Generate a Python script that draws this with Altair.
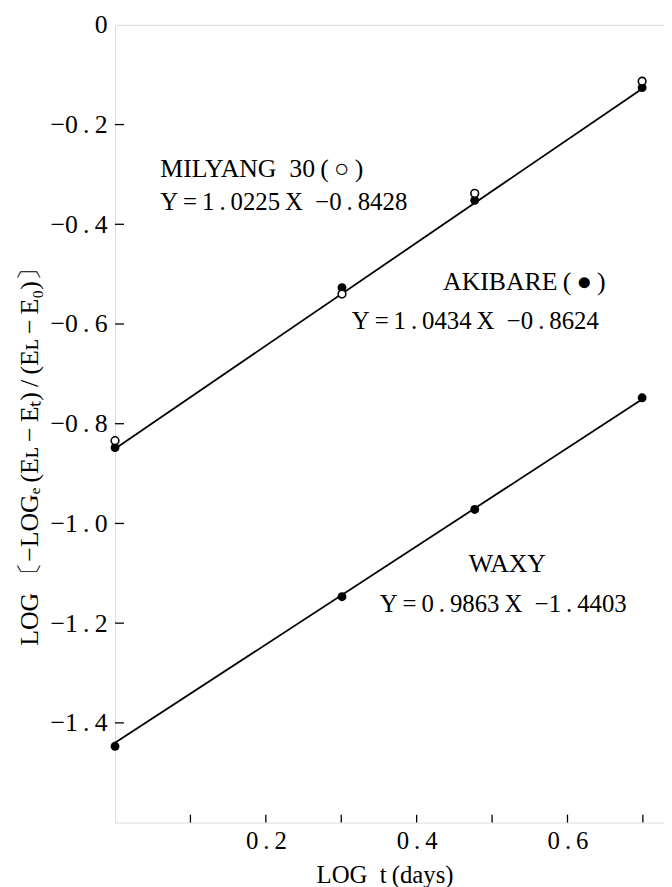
import altair as alt
import pandas as pd

FONT = "Liberation Serif"

# ---- data ----
log_t = [0.0, 0.301, 0.477, 0.699]
milyang = [-0.834, -0.540, -0.338, -0.113]   # open circles
akibare = [-0.848, -0.527, -0.352, -0.126]   # filled circles
waxy = [-1.447, -1.147, -0.972, -0.748]      # filled circles

line_x = [0.0, 0.699]
line_top_y = [-0.850, -0.128]
line_waxy_y = [-1.440, -0.751]

x_label_values = [0.2, 0.4, 0.6]
x_tick_values = [0.1, 0.2, 0.3, 0.4, 0.5, 0.6, 0.7]
y_tick_values = [0.0, -0.2, -0.4, -0.6, -0.8, -1.0, -1.2, -1.4]

T = "\u2009"
ann_text = [
    "MILYANG" + "\u2002" + "30" + T + "(" + T + "○" + T + ")",
    "Y" + T + "=" + T + "1" + T + "." + T + "0225" + T + "X" + "\u2002" + "−0" + T + "." + T + "8428",
    "AKIBARE" + T + "(" + T + "●" + T + ")",
    "Y" + T + "=" + T + "1" + T + "." + T + "0434" + T + "X" + "\u2002" + "−0" + T + "." + T + "8624",
    "WAXY",
    "Y" + T + "=" + T + "0" + T + "." + T + "9863" + T + "X" + "\u2002" + "−1" + T + "." + T + "4403",
]
ann_size = [26, 25, 26, 25, 26, 25]
ann_x = [0.060, 0.060, 0.435, 0.314, 0.469, 0.351]
ann_y = [-0.306, -0.372, -0.531, -0.611, -1.098, -1.178]

X_DOMAIN = [0, 0.728]
Y_DOMAIN = [-1.6, 0]
W, H = 554, 805

pts = pd.DataFrame({
    "x": log_t * 3,
    "y": milyang + akibare + waxy,
    "series": ["MILYANG 30"] * 4 + ["AKIBARE"] * 4 + ["WAXY"] * 4,
})
lines = pd.DataFrame({
    "x": line_x * 2,
    "y": line_top_y + line_waxy_y,
    "series": ["top", "top", "waxy", "waxy"],
})
ann = pd.DataFrame({"x": ann_x, "y": ann_y, "text": ann_text, "size": ann_size})
xt = pd.DataFrame({"x": x_tick_values})
yt = pd.DataFrame({"y": y_tick_values[1:]})

ylabel_expr = (
    "datum.value == 0 ? '0' : '−' + replace(format(abs(datum.value), '.1f'), '.', '\u2009.\u2009')"
)
xlabel_expr = "replace(format(datum.value, '.1f'), '.', '\u2009.\u2009')"

xscale = alt.Scale(domain=X_DOMAIN, nice=False, zero=False)
yscale = alt.Scale(domain=Y_DOMAIN, nice=False, zero=False)

xaxis = alt.Axis(
    values=x_label_values, ticks=False, domain=False, grid=False,
    labelExpr=xlabel_expr, labelFont=FONT, labelFontSize=25, labelColor="black",
    labelPadding=6, title="LOG\u2002t\u2009(days)", titleFont=FONT, titleFontSize=25,
    titleFontWeight="normal", titleColor="black", titleX=272, titleY=52,
    titleBaseline="middle", titleAnchor="start", titleAlign="center",
)
yaxis = alt.Axis(
    values=y_tick_values, ticks=False, domain=False, grid=False,
    labelExpr=ylabel_expr, labelFont=FONT, labelFontSize=26, labelColor="black",
    labelPadding=8,
    title="LOG\u2009〔−LOGₑ\u2009(Eʟ\u2009−\u2009Eₜ)\u2009/\u2009(Eʟ\u2009−\u2009E₀)〕",
    titleFont=FONT, titleFontSize=26,
    titleFontWeight="normal", titleColor="black", titleAngle=270,
    titleX=-86, titleY=429, titleBaseline="middle", titleAlign="center",
)

base_x = alt.X("x:Q", scale=xscale, axis=xaxis)
base_y = alt.Y("y:Q", scale=yscale, axis=yaxis)

line_layer = alt.Chart(lines).mark_line(color="black", strokeWidth=1.8).encode(
    x=base_x, y=base_y, detail="series:N"
)
filled = alt.Chart(pts).transform_filter(alt.datum.series != "MILYANG 30").mark_point(
    shape="circle", filled=True, color="black", size=80, opacity=1
).encode(x="x:Q", y="y:Q")
opened = alt.Chart(pts).transform_filter(alt.datum.series == "MILYANG 30").mark_point(
    shape="circle", filled=False, fill="white", fillOpacity=1, stroke="black",
    strokeWidth=1.6, size=60, opacity=1
).encode(x="x:Q", y="y:Q")

xticks = alt.Chart(xt).mark_rule(color="black", strokeWidth=1.3).encode(
    x="x:Q", y=alt.value(H), y2=alt.value(H - 8)
)
yticks = alt.Chart(yt).mark_rule(color="black", strokeWidth=1.3).encode(
    y="y:Q", x=alt.value(0), x2=alt.value(9)
)

texts = alt.Chart(ann).mark_text(
    font=FONT, align="left", baseline="alphabetic", color="black"
).encode(x="x:Q", y="y:Q", text="text:N", size=alt.Size("size:Q", scale=None, legend=None))

chart = alt.layer(line_layer, xticks, yticks, filled, opened, texts).properties(
    width=W, height=H,
    autosize=alt.AutoSizeParams(type="none"),
    padding={"left": 108, "top": 13, "right": 0, "bottom": 61},
).configure_view(stroke="black", strokeWidth=1.8).configure(background="white")

chart.save("out.html", embed_options={"renderer": "svg", "actions": False})
